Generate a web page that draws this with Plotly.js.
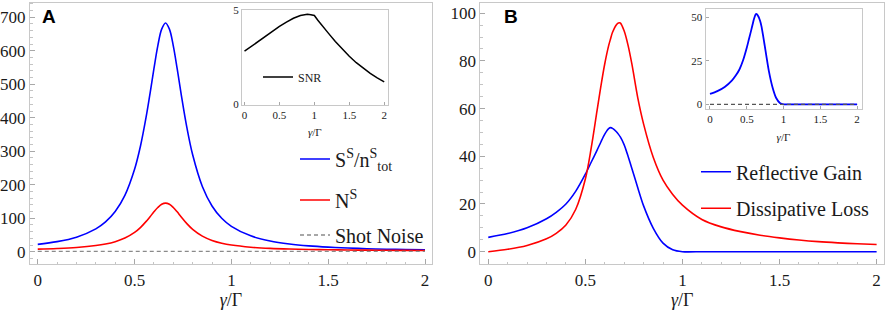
<!DOCTYPE html>
<html>
<head>
<meta charset="utf-8">
<script src="https://cdn.plot.ly/plotly-3.0.1.min.js"></script>
<style>html,body{margin:0;padding:0;background:#fff;}#chart{width:886px;height:310px;}</style>
</head>
<body>
<div id="chart"></div>
<script>
// ---- Data ----
const xA = [0, 0.1, 0.2, 0.3, 0.35, 0.4, 0.45, 0.5, 0.53, 0.56, 0.58, 0.6, 0.62, 0.64, 0.66, 0.68, 0.7, 0.72, 0.74, 0.77, 0.8, 0.85, 0.9, 0.95, 1.0, 1.1, 1.2, 1.3, 1.4, 1.5, 1.6, 1.7, 1.8, 1.9, 2.0];
const signalA = [21.9, 30.0, 43.5, 68.3, 89.0, 120.0, 168.1, 245.9, 314.2, 403.1, 472.9, 546.4, 614.7, 664.5, 683.0, 664.5, 614.7, 546.4, 472.9, 371.1, 289.3, 194.8, 136.6, 99.8, 75.7, 47.3, 32.1, 23.2, 17.5, 13.7, 11.0, 9.0, 7.5, 6.3, 5.4];
const noiseA = [7.6, 9.5, 12.6, 18.3, 23.0, 30.0, 40.7, 57.6, 72.1, 90.5, 104.5, 119.0, 132.1, 141.5, 145.0, 141.5, 132.1, 119.0, 104.5, 83.9, 66.8, 46.5, 33.7, 25.4, 19.9, 13.5, 10.0, 7.9, 6.6, 5.7, 5.1, 4.6, 4.2, 4.0, 3.8];
const shotX = [0, 2];
const shotY = [1, 1];

const xSNR = [0, 0.1, 0.2, 0.3, 0.4, 0.5, 0.6, 0.7, 0.8, 0.85, 0.9, 0.95, 1.0, 1.05, 1.1, 1.2, 1.3, 1.4, 1.5, 1.6, 1.7, 1.8, 1.9, 2.0];
const snr = [2.83, 3.10, 3.38, 3.65, 3.91, 4.15, 4.38, 4.58, 4.73, 4.78, 4.79, 4.77, 4.73, 4.48, 4.24, 3.79, 3.35, 2.94, 2.56, 2.22, 1.92, 1.65, 1.41, 1.20];

const xB = [0, 0.1, 0.2, 0.3, 0.35, 0.4, 0.45, 0.5, 0.53, 0.56, 0.58, 0.6, 0.62, 0.63, 0.64, 0.66, 0.67, 0.68, 0.7, 0.72, 0.74, 0.77, 0.8, 0.85, 0.9, 0.95, 1.0, 1.1, 1.2, 1.3, 1.4, 1.5, 1.6, 1.7, 1.8, 1.9, 2.0];
const gainB = [6.0, 7.6, 10.0, 13.8, 16.5, 20.0, 25.3, 32.5, 37.5, 42.5, 46.0, 49.3, 51.6, 52.0, 51.7, 50.3, 49.3, 48.1, 44.8, 40.0, 34.8, 26.8, 19.2, 9.8, 3.6, 0.8, 0, 0, 0, 0, 0, 0, 0, 0, 0, 0, 0];
const lossB = [0, 1.0, 2.6, 5.4, 7.7, 11.2, 17.7, 30.5, 43.4, 59.0, 69.4, 78.8, 86.4, 89.3, 92.0, 95.2, 95.9, 95.9, 92.5, 86.5, 78.5, 64.5, 53.5, 39.5, 30.0, 24.0, 19.5, 13.5, 10.4, 8.4, 6.9, 5.8, 4.9, 4.2, 3.7, 3.3, 3.0];
const zeroX = [0, 2];
const zeroY = [0, 0];

const xTickVals = [0, 0.5, 1, 1.5, 2];
const xTickText = ['0', '0.5', '1', '1.5', '2'];
const yTickValsA = [0, 100, 200, 300, 400, 500, 600, 700];
const yTickValsAInset = [0, 5];
const yTickValsB = [0, 20, 40, 60, 80, 100];
const yTickValsBInset = [0, 25, 50];

// ---- Styling ----
const BLUE = '#0000ff', RED = '#ff0000', GRAY = '#8a8a8a';
const FRAME = '#c8c8c8', TICK = '#a8a8a8', TXT = '#1a1a1a';
const SERIF = 'Liberation Serif';
const SANS = 'Liberation Sans';

const traces = [
  {x: xA, y: signalA, xaxis: 'x', yaxis: 'y', mode: 'lines', name: 'S<sup>S</sup>/n<sup>S</sup><sub>tot</sub>',
   line: {color: BLUE, width: 1.6, shape: 'spline', smoothing: 1}, legend: 'legend'},
  {x: xA, y: noiseA, xaxis: 'x', yaxis: 'y', mode: 'lines', name: 'N<sup>S</sup>',
   line: {color: RED, width: 1.6, shape: 'spline', smoothing: 1}, legend: 'legend2'},
  {x: shotX, y: shotY, xaxis: 'x', yaxis: 'y', mode: 'lines', name: 'Shot Noise',
   line: {color: GRAY, width: 1.4, dash: '4px,3px'}, legend: 'legend3'},
  {x: xSNR, y: snr, xaxis: 'x2', yaxis: 'y2', mode: 'lines', name: 'SNR',
   line: {color: '#000000', width: 1.5}, legend: 'legend4'},
  {x: xB, y: gainB, xaxis: 'x3', yaxis: 'y3', mode: 'lines', name: 'Reflective Gain',
   line: {color: BLUE, width: 1.6, shape: 'spline', smoothing: 0.8}, legend: 'legend5'},
  {x: xB, y: lossB, xaxis: 'x3', yaxis: 'y3', mode: 'lines', name: 'Dissipative Loss',
   line: {color: RED, width: 1.6, shape: 'spline', smoothing: 0.9}, legend: 'legend6'},
  {x: xB, y: gainB, xaxis: 'x4', yaxis: 'y4', mode: 'lines', name: 'Reflective Gain (inset)',
   line: {color: BLUE, width: 1.8, shape: 'spline', smoothing: 0.8}, showlegend: false},
  {x: zeroX, y: zeroY, xaxis: 'x4', yaxis: 'y4', mode: 'lines', name: 'zero',
   line: {color: '#555555', width: 1.2, dash: '4px,3px'}, showlegend: false}
];

function xAxis(domain, anchor, range, fs, tfs, tlen, minor, standoff) {
  const ax = {
    domain: domain, anchor: anchor, range: range, tickmode: 'array', tickvals: xTickVals, ticktext: xTickText,
    ticks: 'inside', ticklen: tlen, tickwidth: 1, tickcolor: TICK,
    tickfont: {family: SERIF, size: fs, color: TXT},
    showline: true, linecolor: FRAME, linewidth: 1, mirror: true,
    showgrid: false, zeroline: false, fixedrange: true,
    title: {text: '<i>γ</i>/Γ', font: {family: SERIF, size: tfs, color: TXT}, standoff: standoff}
  };
  if (minor) ax.minor = {tick0: 0, dtick: minor, ticks: 'inside', ticklen: tlen * 0.55, tickcolor: '#c4c4c4', showgrid: false};
  return ax;
}
function yAxis(domain, anchor, range, vals, fs, tlen, minor) {
  const ax = {
    domain: domain, anchor: anchor, range: range, tickmode: 'array', tickvals: vals,
    ticks: 'inside', ticklen: tlen, tickwidth: 1, tickcolor: TICK,
    tickfont: {family: SERIF, size: fs, color: TXT},
    showline: true, linecolor: FRAME, linewidth: 1, mirror: true,
    showgrid: false, zeroline: false, fixedrange: true
  };
  if (minor) ax.minor = {tick0: 0, dtick: minor, ticks: 'inside', ticklen: tlen * 0.55, tickcolor: '#c4c4c4', showgrid: false};
  return ax;
}
function leg(xpx, ypx, fs) {
  return {x: xpx / 886, y: 1 - ypx / 310, xanchor: 'left', yanchor: 'middle',
          bgcolor: 'rgba(0,0,0,0)', borderwidth: 0, font: {family: SERIF, size: fs, color: TXT}};
}

const mainY = [1 - 264.3 / 310, 1 - 2.7 / 310];
const layout = {
  width: 886, height: 310,
  margin: {l: 0, r: 0, t: 0, b: 0, pad: 0},
  paper_bgcolor: '#ffffff', plot_bgcolor: '#ffffff',
  font: {family: SERIF, color: TXT},
  showlegend: true,
  xaxis: xAxis([30 / 886, 432 / 886], 'y', [-0.04, 2.036], 17, 18, 5, 0.1, 6),
  yaxis: yAxis(mainY, 'x', [-37.6, 743.5], yTickValsA, 17, 5, 20),
  xaxis2: xAxis([242 / 886, 387.7 / 886], 'y2', [-0.036, 2.05], 11, 11, 3, null, 8),
  yaxis2: yAxis([1 - 104.5 / 310, 1 - 10 / 310], 'x2', [0, 5.02], yTickValsAInset, 11, 3, null),
  xaxis3: xAxis([480.3 / 886, 884 / 886], 'y3', [-0.041, 2.038], 17, 18, 5, 0.1, 6),
  yaxis3: yAxis(mainY, 'x3', [-5.29, 104.4], yTickValsB, 17, 5, 5),
  xaxis4: xAxis([705.5 / 886, 861.5 / 886], 'y4', [-0.061, 2.06], 11, 11, 3, null, 9),
  yaxis4: yAxis([1 - 109 / 310, 1 - 9.3 / 310], 'x4', [-2.7, 54.6], yTickValsBInset, 11, 3, null),
  legend: leg(295, 159, 20),
  legend2: leg(295, 200, 20),
  legend3: leg(295, 235, 20),
  legend4: leg(258, 77, 12),
  legend5: leg(696, 171.7, 20),
  legend6: leg(696, 208.3, 20),
  annotations: [
    {text: '<b>A</b>', xref: 'paper', yref: 'paper', x: 49 / 886, y: 1 - 16 / 310, xanchor: 'center', yanchor: 'middle',
     showarrow: false, font: {family: SANS, size: 19, color: '#000'}},
    {text: '<b>B</b>', xref: 'paper', yref: 'paper', x: 511 / 886, y: 1 - 16 / 310, xanchor: 'center', yanchor: 'middle',
     showarrow: false, font: {family: SANS, size: 19, color: '#000'}}
  ]
};

Plotly.newPlot('chart', traces, layout, {displayModeBar: false, staticPlot: true});
</script>
</body>
</html>
